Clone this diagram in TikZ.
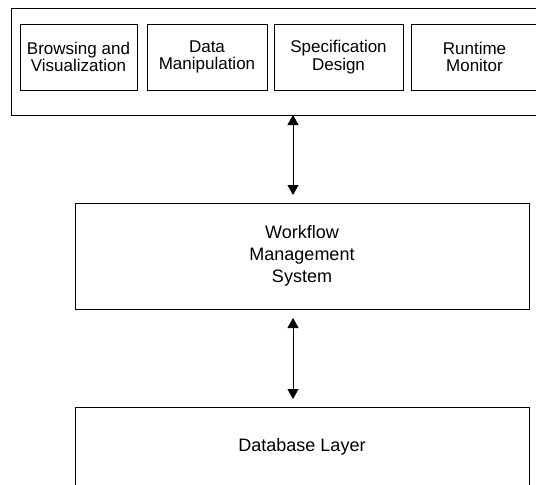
\documentclass[tikz,border=0pt]{standalone}
\usepackage{fontspec}
\setmainfont{Liberation Sans}
\usetikzlibrary{positioning,arrows.meta}

\tikzset{
	box/.style={draw,line width=0.8pt,inner sep=0pt,outer sep=0pt,align=center},
	tool/.style={box,minimum height=66pt,font=\fontsize{17}{17.5}\selectfont},
	layer/.style={box,minimum width=454pt,font=\fontsize{18}{22}\selectfont},
	biarrow/.style={arrows={Triangle[width=11pt,length=10pt]-Triangle[width=11pt,length=10pt]},line width=0.8pt}
}

\begin{document}
\begin{tikzpicture}[x=1pt,y=-1pt]
	\useasboundingbox (0,0) rectangle (536,485);
	\node[box,minimum width=560pt,minimum height=107pt,anchor=north west] (ui) at (11,8) {};
	\node[tool,minimum width=117pt,anchor=north west] (browse) at (20,24) {Browsing and\\Visualization};
	\node[tool,minimum width=120pt,right=10pt of browse] (data) {Data\\Manipulation};
	\node[tool,minimum width=129pt,right=7pt of data] (spec) {Specification\\Design};
	\node[tool,minimum width=127pt,right=8pt of spec] (monitor) {Runtime\\Monitor};
	\node[layer,minimum height=106pt,anchor=north west] (wf) at (75,203) {Workflow\\Management\\System};
	\node[layer,minimum height=79pt,anchor=north west] (db) at (75,407) {Database Layer};
	\coordinate (ax) at (293,0);
	\draw[biarrow,shorten >=8pt] (ui.south -| ax)--(wf.north -| ax);
	\draw[biarrow,shorten <=9pt,shorten >=8pt] (wf.south -| ax)--(db.north -| ax);
\end{tikzpicture}
\end{document}
